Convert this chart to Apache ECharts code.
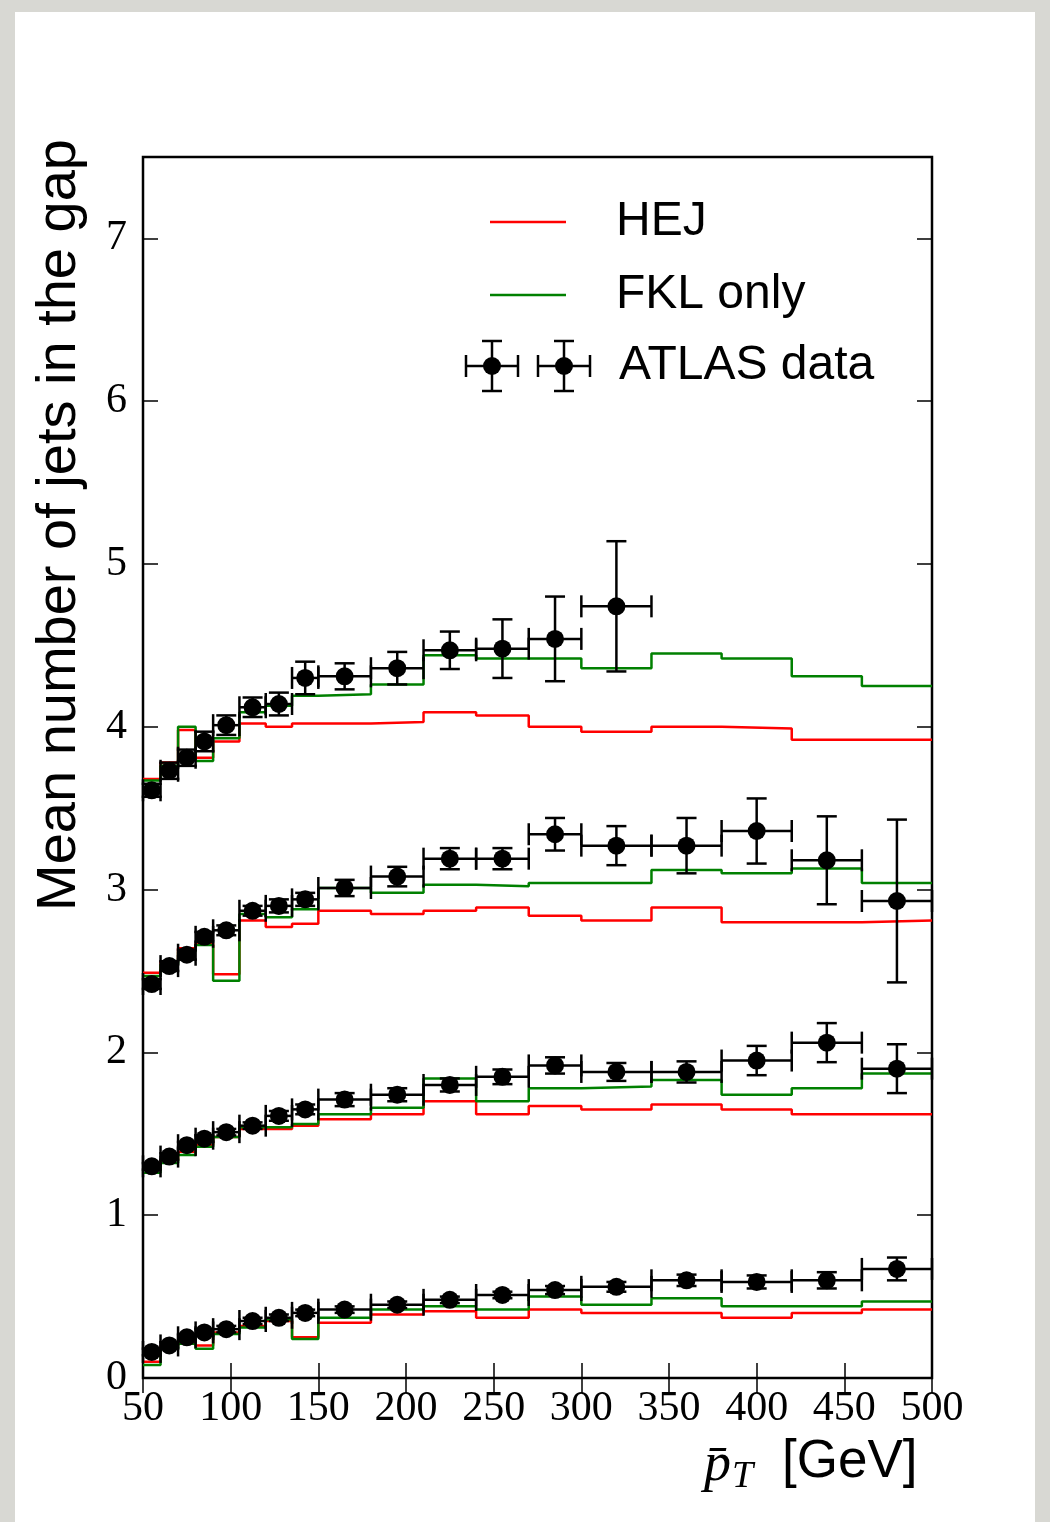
<!DOCTYPE html>
<html>
<head>
<meta charset="utf-8">
<script src="https://cdn.jsdelivr.net/npm/echarts@6/dist/echarts.min.js"></script>
<style>
  html, body { margin:0; padding:0; background:#d8d8d3; }
  #paper { position:absolute; left:15px; top:12px; right:15px; bottom:0; background:#ffffff; }
  #chart { position:absolute; left:0; top:0; width:1050px; height:1522px; }
</style>
</head>
<body>
<div id="paper"></div>
<div id="chart"></div>
<script>
// bin edges in pT [GeV]
const binEdges = [50,60,70,80,90,105,120,135,150,180,210,240,270,300,340,380,420,460,500];
const xTicks = [50,100,150,200,250,300,350,400,450,500];
const yTicks = [0,1,2,3,4,5,6,7];

// lowest curve set
const hejA  = [0.10,0.20,0.22,0.20,0.28,0.32,0.35,0.25,0.34,0.39,0.41,0.37,0.42,0.40,0.40,0.37,0.40,0.42];
const fklA  = [0.08,0.18,0.21,0.18,0.27,0.31,0.36,0.24,0.37,0.42,0.44,0.42,0.50,0.45,0.49,0.44,0.44,0.47];
const dataA = [0.16,0.20,0.25,0.28,0.30,0.35,0.37,0.40,0.42,0.45,0.48,0.51,0.54,0.56,0.60,0.59,0.60,0.67];
const errA  = [0.02,0.02,0.02,0.02,0.02,0.02,0.02,0.02,0.02,0.02,0.02,0.02,0.025,0.03,0.035,0.04,0.05,0.07];

// second set
const hejB  = [1.28,1.34,1.39,1.43,1.48,1.53,1.53,1.55,1.59,1.62,1.70,1.62,1.67,1.65,1.68,1.65,1.62,1.62];
const fklB  = [1.26,1.32,1.37,1.42,1.48,1.54,1.54,1.56,1.62,1.66,1.84,1.70,1.78,1.79,1.83,1.74,1.78,1.87];
const dataB = [1.30,1.36,1.43,1.47,1.51,1.55,1.61,1.65,1.71,1.74,1.80,1.85,1.92,1.88,1.88,1.95,2.06,1.90];
const errB  = [0.02,0.02,0.02,0.02,0.02,0.02,0.03,0.03,0.04,0.04,0.04,0.045,0.05,0.055,0.065,0.09,0.12,0.15];

// third set
const hejC  = [2.49,2.56,2.64,2.67,2.48,2.81,2.77,2.79,2.87,2.85,2.87,2.89,2.84,2.81,2.89,2.80,2.80,2.81];
const fklC  = [2.47,2.54,2.62,2.66,2.44,2.85,2.83,2.88,3.01,2.98,3.03,3.02,3.04,3.04,3.12,3.10,3.13,3.04];
const dataC = [2.42,2.53,2.60,2.71,2.75,2.87,2.90,2.94,3.01,3.08,3.19,3.19,3.34,3.27,3.27,3.36,3.18,2.93];
const errC  = [0.03,0.03,0.03,0.03,0.03,0.03,0.04,0.04,0.05,0.06,0.065,0.065,0.10,0.12,0.17,0.20,0.27,0.50];

// top set
const hejD  = [3.68,3.78,3.98,3.81,3.91,4.02,4.00,4.02,4.02,4.03,4.09,4.07,4.00,3.97,4.00,3.99,3.92,3.92];
const fklD  = [3.67,3.76,4.00,3.79,3.93,4.09,4.13,4.19,4.20,4.26,4.44,4.42,4.42,4.36,4.45,4.42,4.31,4.25];
const dataD = [3.61,3.73,3.81,3.91,4.01,4.12,4.14,4.30,4.31,4.36,4.47,4.48,4.54,4.74];
const errD  = [0.04,0.05,0.05,0.06,0.06,0.06,0.07,0.10,0.08,0.10,0.115,0.18,0.26,0.40];

const RED = '#ff0000', GREEN = '#008000';
const LW = 2.5;

function stepData(vals){
  const d = vals.map((v,i)=>[binEdges[i], v]);
  d.push([binEdges[vals.length], vals[vals.length-1]]);
  return d;
}
function errData(vals, errs){
  return vals.map((v,i)=>[binEdges[i], binEdges[i+1], (binEdges[i]+binEdges[i+1])/2, v, errs[i]]);
}
function renderErr(params, api){
  const xlo=api.value(0), xhi=api.value(1), xc=api.value(2), y=api.value(3), e=api.value(4);
  const pL=api.coord([xlo,y]), pR=api.coord([xhi,y]), pC=api.coord([xc,y]);
  const pT=api.coord([xc,y+e]), pB=api.coord([xc,y-e]);
  const st={stroke:'#000', lineWidth:LW};
  const cap=11, vcap=10;
  return {type:'group', children:[
    {type:'line', shape:{x1:pL[0],y1:pL[1],x2:pR[0],y2:pR[1]}, style:st},
    {type:'line', shape:{x1:pL[0],y1:pL[1]-cap,x2:pL[0],y2:pL[1]+cap}, style:st},
    {type:'line', shape:{x1:pR[0],y1:pR[1]-cap,x2:pR[0],y2:pR[1]+cap}, style:st},
    {type:'line', shape:{x1:pT[0],y1:pT[1],x2:pB[0],y2:pB[1]}, style:st},
    {type:'line', shape:{x1:pT[0]-vcap,y1:pT[1],x2:pT[0]+vcap,y2:pT[1]}, style:st},
    {type:'line', shape:{x1:pB[0]-vcap,y1:pB[1],x2:pB[0]+vcap,y2:pB[1]}, style:st},
    {type:'circle', shape:{cx:pC[0], cy:pC[1], r:9}, style:{fill:'#000'}}
  ]};
}
function lineSeries(name, vals, color){
  return {name, type:'line', step:'end', data:stepData(vals), symbol:'none',
          lineStyle:{color, width:LW}, itemStyle:{color}, animation:false, z:3};
}
function dataSeries(vals, errs){
  return {name:'ATLAS data', type:'custom', renderItem:renderErr, data:errData(vals, errs),
          encode:{x:[0,1], y:3}, animation:false, z:5};
}

const chart = echarts.init(document.getElementById('chart'), null, {renderer:'canvas'});
const tickStyle = {show:true, inside:true, length:15, lineStyle:{color:'#000', width:1.5}};
const labelFont = {fontFamily:'Liberation Serif', fontSize:42, color:'#000'};

function legendCross(cx, cy){
  const s = {stroke:'#000', lineWidth:LW};
  return {type:'group', x:cx, y:cy, children:[
    {type:'line', shape:{x1:-26,y1:0,x2:26,y2:0}, style:s},
    {type:'line', shape:{x1:-26,y1:-11,x2:-26,y2:11}, style:s},
    {type:'line', shape:{x1:26,y1:-11,x2:26,y2:11}, style:s},
    {type:'line', shape:{x1:0,y1:-25,x2:0,y2:25}, style:s},
    {type:'line', shape:{x1:-10,y1:-25,x2:10,y2:-25}, style:s},
    {type:'line', shape:{x1:-10,y1:25,x2:10,y2:25}, style:s},
    {type:'circle', shape:{cx:0,cy:0,r:9}, style:{fill:'#000'}}
  ]};
}

const option = {
  backgroundColor:'transparent',
  animation:false,
  grid:{left:143, right:118, top:157, bottom:144, show:true, borderColor:'#000', borderWidth:2.5, backgroundColor:'transparent'},
  xAxis:[
    {type:'value', min:50, max:500, interval:50, position:'bottom',
     axisLine:{show:false}, splitLine:{show:false}, axisTick:tickStyle,
     axisLabel:Object.assign({margin:10, formatter:v=>xTicks.includes(v)?String(v):''}, labelFont)},
    {type:'value', min:50, max:500, interval:50, position:'top',
     axisLine:{show:false}, splitLine:{show:false}, axisTick:tickStyle, axisLabel:{show:false}}
  ],
  yAxis:[
    {type:'value', min:0, max:7.5, interval:1, position:'left',
     axisLine:{show:false}, splitLine:{show:false}, axisTick:tickStyle,
     axisLabel:Object.assign({margin:16, padding:[0,0,12,0], formatter:v=>yTicks.includes(v)?String(v):''}, labelFont)},
    {type:'value', min:0, max:7.5, interval:1, position:'right',
     axisLine:{show:false}, splitLine:{show:false}, axisTick:tickStyle, axisLabel:{show:false}}
  ],
  series:[
    lineSeries('HEJ', hejA, RED), lineSeries('FKL only', fklA, GREEN), dataSeries(dataA, errA),
    lineSeries('HEJ', hejB, RED), lineSeries('FKL only', fklB, GREEN), dataSeries(dataB, errB),
    lineSeries('HEJ', hejC, RED), lineSeries('FKL only', fklC, GREEN), dataSeries(dataC, errC),
    lineSeries('HEJ', hejD, RED), lineSeries('FKL only', fklD, GREEN), dataSeries(dataD, errD)
  ],
  graphic:[
    // y axis title
    {type:'text', x:60, y:525, rotation:Math.PI/2,
     style:{text:'Mean number of jets in the gap', font:'56px "Liberation Sans"', fill:'#000', align:'center', verticalAlign:'middle'}},
    // x axis title
    {type:'text', x:704, y:1466,
     style:{text:'p\u0304', font:'italic 54px "Liberation Serif"', fill:'#000', align:'left', verticalAlign:'middle'}},
    {type:'text', x:732, y:1477,
     style:{text:'T', font:'italic 38px "Liberation Serif"', fill:'#000', align:'left', verticalAlign:'middle'}},
    {type:'text', x:782, y:1462,
     style:{text:'[GeV]', font:'53px "Liberation Sans"', fill:'#000', align:'left', verticalAlign:'middle'}},
    // legend
    {type:'line', shape:{x1:490,y1:222,x2:566,y2:222}, style:{stroke:RED, lineWidth:LW}},
    {type:'text', x:616, y:222, style:{text:'HEJ', font:'48px "Liberation Sans"', fill:'#000', verticalAlign:'middle'}},
    {type:'line', shape:{x1:490,y1:295,x2:566,y2:295}, style:{stroke:GREEN, lineWidth:LW}},
    {type:'text', x:616, y:295, style:{text:'FKL only', font:'48px "Liberation Sans"', fill:'#000', verticalAlign:'middle'}},
    legendCross(492, 366),
    legendCross(564, 366),
    {type:'text', x:619, y:366, style:{text:'ATLAS data', font:'48px "Liberation Sans"', fill:'#000', verticalAlign:'middle'}}
  ]
};
chart.setOption(option);
</script>
</body>
</html>
